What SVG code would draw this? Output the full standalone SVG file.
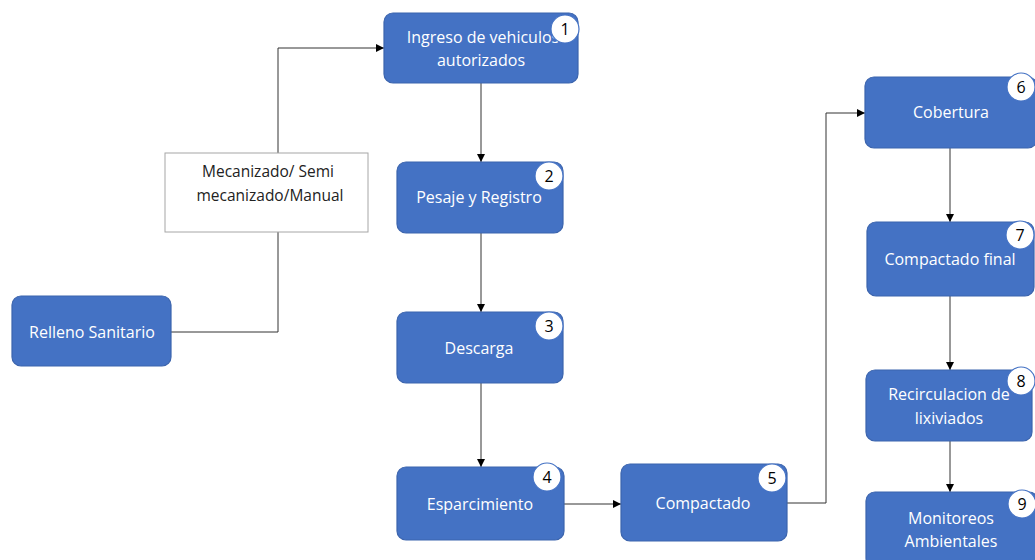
<svg xmlns="http://www.w3.org/2000/svg" width="1035" height="560" viewBox="0 0 1035 560">
<defs>
<marker id="arr" viewBox="0 0 10 10" refX="10" refY="5" markerWidth="8" markerHeight="8" markerUnits="userSpaceOnUse" orient="auto"><path d="M0,0 L10,5 L0,10 z" fill="#000"/></marker>
<style>
.n{fill:#4472C4;stroke:#3b64ad;stroke-width:1.2}
.t{fill:#fff;font-family:"Open Sans","Noto Sans",sans-serif;font-size:16px;text-anchor:middle}
.c{fill:#fff;stroke:#4472C4;stroke-width:1.2}
.ct{fill:#000;font-family:"Open Sans","Noto Sans",sans-serif;font-size:16px;text-anchor:middle}
.e{fill:none;stroke:#333;stroke-width:1}
.bx{fill:#fff;stroke:#a6a6a6;stroke-width:1}
.bt{fill:#222;font-family:"Open Sans","Noto Sans",sans-serif;font-size:15.5px;text-anchor:middle}
</style>
</defs>
<rect width="1035" height="560" fill="#fff"/>
<g id="connectors">
<path class="e" d="M171,332 H278 V48 H384" marker-end="url(#arr)"/>
<path class="e" d="M481,83 V162" marker-end="url(#arr)"/>
<path class="e" d="M481,233 V312" marker-end="url(#arr)"/>
<path class="e" d="M481,383 V467" marker-end="url(#arr)"/>
<path class="e" d="M564,504 H621" marker-end="url(#arr)"/>
<path class="e" d="M787,503 H826 V113 H865" marker-end="url(#arr)"/>
<path class="e" d="M950,148 V222" marker-end="url(#arr)"/>
<path class="e" d="M950,296 V370" marker-end="url(#arr)"/>
<path class="e" d="M950,441 V492" marker-end="url(#arr)"/>
</g>
<g id="label-box">
<rect class="bx" x="165" y="153" width="203" height="79"/>
<text class="bt" x="268" y="177">Mecanizado/ Semi</text>
<text class="bt" x="270" y="201">mecanizado/Manual</text>
</g>
<g id="relleno">
<rect class="n" x="12" y="296" width="159" height="70" rx="9"/>
<text class="t" x="92" y="338">Relleno Sanitario</text>
</g>
<g id="n1">
<rect class="n" x="384" y="13" width="194" height="70" rx="9"/>
<text class="t" x="483" y="43">Ingreso de vehiculos</text>
<text class="t" x="481" y="66">autorizados</text>
<circle class="c" cx="565" cy="29" r="14"/>
<text class="ct" x="565" y="35">1</text>
</g>
<g id="n2">
<rect class="n" x="397" y="162" width="166" height="71" rx="9"/>
<text class="t" x="479" y="203">Pesaje y Registro</text>
<circle class="c" cx="549" cy="176" r="14"/>
<text class="ct" x="549" y="182">2</text>
</g>
<g id="n3">
<rect class="n" x="397" y="312" width="166" height="71" rx="9"/>
<text class="t" x="479" y="354">Descarga</text>
<circle class="c" cx="549" cy="326" r="14"/>
<text class="ct" x="549" y="332">3</text>
</g>
<g id="n4">
<rect class="n" x="397" y="467" width="167" height="73" rx="9"/>
<text class="t" x="480" y="510">Esparcimiento</text>
<circle class="c" cx="547" cy="477" r="14"/>
<text class="ct" x="547" y="483">4</text>
</g>
<g id="n5">
<rect class="n" x="621" y="464" width="166" height="77" rx="9"/>
<text class="t" x="703" y="509">Compactado</text>
<circle class="c" cx="772" cy="478" r="14"/>
<text class="ct" x="772" y="484">5</text>
</g>
<g id="n6">
<rect class="n" x="865" y="77" width="172" height="71" rx="9"/>
<text class="t" x="951" y="118">Cobertura</text>
<circle class="c" cx="1021" cy="87" r="14"/>
<text class="ct" x="1021" y="93">6</text>
</g>
<g id="n7">
<rect class="n" x="867" y="222" width="167" height="74" rx="9"/>
<text class="t" x="950" y="265">Compactado final</text>
<circle class="c" cx="1020" cy="235" r="14"/>
<text class="ct" x="1020" y="241">7</text>
</g>
<g id="n8">
<rect class="n" x="866" y="370" width="166" height="71" rx="9"/>
<text class="t" x="949" y="400">Recirculacion de</text>
<text class="t" x="949" y="424">lixiviados</text>
<circle class="c" cx="1021" cy="381" r="14"/>
<text class="ct" x="1021" y="387">8</text>
</g>
<g id="n9">
<rect class="n" x="866" y="492" width="172" height="75" rx="9"/>
<text class="t" x="951" y="524">Monitoreos</text>
<text class="t" x="951" y="547">Ambientales</text>
<circle class="c" cx="1022" cy="504" r="14"/>
<text class="ct" x="1022" y="510">9</text>
</g>
</svg>
